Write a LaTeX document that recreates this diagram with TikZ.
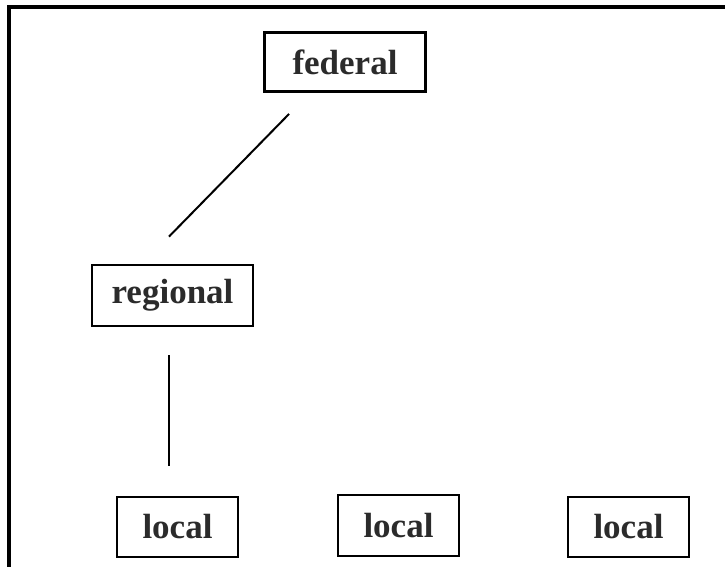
\documentclass[tikz,border=0pt]{standalone}
\usepackage{fontspec}
\setmainfont{Liberation Serif}
\usetikzlibrary{positioning,calc}
\definecolor{ink}{HTML}{2B2B2B}
\tikzset{
  tree/.style={font=\bfseries\fontsize{35}{40}\selectfont, text=ink},
  level/.style={draw=black,line width=2.8pt,fill=white,inner sep=0pt,
    minimum width=161pt,minimum height=59pt,align=center},
  leaf/.style={level,minimum width=121pt,minimum height=60pt},
  link/.style={draw=black,line width=2pt},
}
\begin{document}
\begin{tikzpicture}[tree,x=1pt,y=1pt]
  % Fixed 725 x 567 page; the frame runs past the right and bottom edges.
  \path[use as bounding box] (0,0) rectangle (725,-567);
  \clip (0,0) rectangle (725,-567);
  \draw[line width=4pt] (9,-7) rectangle (740,-590);

  % ---------------- levels of government ----------------
  \node[level] (federal) at (345,-62) {federal};
  \node[level,minimum height=61pt] (regional) at (172.5,-295.5) {regional};

  \node[leaf] (local1) at (177.5,-527) {local};
  \node[leaf,minimum height=61pt] (local2) at (398.5,-525.5) {local};
  \node[leaf] (local3) at (628.5,-527) {local};

  % Connectors stop short of the boxes.
  \draw[link] ([xshift=26pt,yshift=-21pt]federal.south west)
    -- ([xshift=-3.5pt,yshift=27pt]regional.north);
  \draw[link] ([xshift=-3.5pt,yshift=-28pt]regional.south)
    -- ($(local1.north -| regional.south)+(-3.5,30)$);
\end{tikzpicture}
\end{document}
